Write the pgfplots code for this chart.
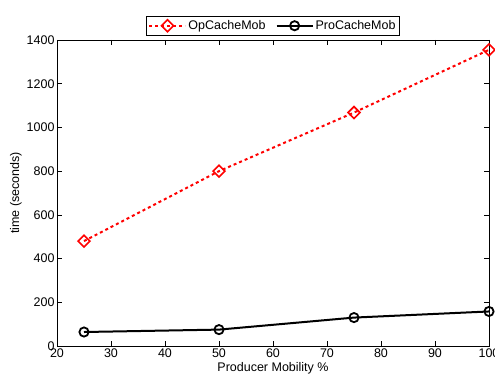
\documentclass[border=0pt]{standalone}
\usepackage{fontspec}
\setmainfont{Liberation Sans}
\usepackage{pgfplots}
\pgfplotsset{compat=1.18}
\begin{document}
\begin{tikzpicture}
\begin{axis}[
  name=ax, at={(0,0)}, anchor=south west,
  width=432pt, height=306pt, scale only axis,
  xmin=20, xmax=100, ymin=0, ymax=1400,
  xtick={20,30,...,100}, ytick={0,200,...,1400},
  tick align=inside, major tick length=5pt,
  tick style={black, line width=0.6pt},
  axis line style={line width=0.8pt},
  xlabel={Producer Mobility \%}, ylabel={time (seconds)},
  xlabel style={yshift=2pt},
  ylabel style={yshift=-2pt},
  label style={font=\fontsize{12.5}{14}\selectfont},
  ticklabel style={font=\fontsize{12.5}{14}\selectfont},
  xticklabel style={yshift=1pt},
  yticklabel style={xshift=1pt},
  /pgf/number format/assume math mode=true,
  /pgf/number format/1000 sep={},
  legend style={at={(0.5,1.015)}, anchor=south, legend columns=2, draw=black, line width=0.8pt,
    font=\fontsize{12.5}{14}\selectfont, inner sep=2pt,
    /tikz/every even column/.append style={column sep=8pt}},
  legend image code/.code={\draw[mark repeat=2,mark phase=2] plot coordinates {(0pt,0pt) (18pt,0pt) (36pt,0pt)};},
]
\addplot[red, line width=2pt, dash pattern=on 3pt off 3pt, mark=square, mark size=4.2pt,
  mark options={solid, rotate=45, line width=1.6pt}]
  coordinates {(25,480) (50,800) (75,1068) (100,1355)};
\addlegendentry{OpCacheMob}
\addplot[black, line width=2pt, mark=o, mark size=4.6pt, mark options={solid, line width=1.8pt}]
  coordinates {(25,64) (50,75) (75,130) (100,158)};
\addlegendentry{ProCacheMob}
\end{axis}
\pgfresetboundingbox
\path ([xshift=-57pt,yshift=-34pt]ax.south west) rectangle ([xshift=6pt,yshift=40pt]ax.north east);
\end{tikzpicture}
\end{document}
